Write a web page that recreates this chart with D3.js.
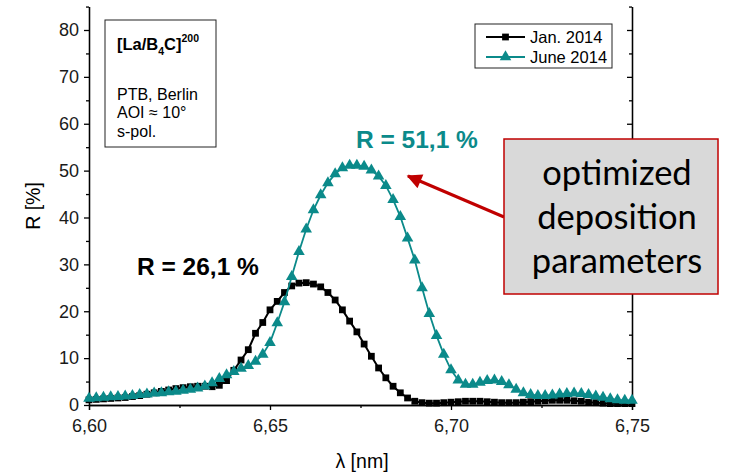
<!DOCTYPE html>
<html>
<head>
<meta charset="utf-8">
<script src="https://cdn.jsdelivr.net/npm/d3@7"></script>
<style>
  body { margin: 0; background: #fff; }
  .axis path, .axis line { stroke: #000; stroke-width: 1.3; }
  .axis text { font-family: Arial, "Liberation Sans", sans-serif; font-size: 18px; fill: #1a1a1a; }
</style>
</head>
<body>
<div id="chart"></div>
<script>

// wavelength grid [nm]
var lambda = [6.600, 6.602, 6.604, 6.606, 6.608, 6.610, 6.612, 6.614, 6.616, 6.618,
              6.620, 6.622, 6.624, 6.626, 6.628, 6.630, 6.632, 6.634, 6.636, 6.638,
              6.640, 6.642, 6.644, 6.646, 6.648, 6.650, 6.652, 6.654, 6.656, 6.658,
              6.660, 6.662, 6.664, 6.666, 6.668, 6.670, 6.672, 6.674, 6.676, 6.678,
              6.680, 6.682, 6.684, 6.686, 6.688, 6.690, 6.692, 6.694, 6.696, 6.698,
              6.700, 6.702, 6.704, 6.706, 6.708, 6.710, 6.712, 6.714, 6.716, 6.718,
              6.720, 6.722, 6.724, 6.726, 6.728, 6.730, 6.732, 6.734, 6.736, 6.738,
              6.740, 6.742, 6.744, 6.746, 6.748, 6.750];

// reflectivity [%], Jan. 2014
var rJan = [1.1, 1.2, 1.3, 1.4, 1.5, 1.6, 1.8, 2.0, 2.3, 2.6,
            2.9, 3.2, 3.5, 3.7, 3.9, 4.0, 4.0, 3.9, 4.2, 5.2,
            7.4, 9.6, 11.8, 15.3, 17.6, 20.3, 22.1, 24.0, 25.4, 26.0,
            26.1, 25.8, 25.2, 24.0, 22.4, 20.3, 17.9, 15.6, 13.0, 10.4,
            7.9, 5.8, 4.0, 2.6, 1.5, 0.8, 0.5, 0.4, 0.4, 0.5,
            0.6, 0.7, 0.8, 0.8, 0.8, 0.7, 0.6, 0.5, 0.5, 0.5,
            0.6, 0.7, 0.8, 0.9, 1.0, 1.0, 1.0, 0.9, 0.8, 0.6,
            0.5, 0.4, 0.3, 0.3, 0.3, 0.3];

// reflectivity [%], June 2014
var rJune = [1.4, 1.5, 1.6, 1.7, 1.8, 1.9, 2.0, 2.2, 2.3, 2.5,
             2.6, 2.8, 2.9, 3.1, 3.3, 3.6, 4.0, 4.7, 5.6, 6.4,
             7.1, 7.8, 8.4, 9.3, 10.8, 13.3, 17.5, 22.0, 27.4, 32.7,
             37.5, 41.6, 44.8, 47.4, 49.3, 50.6, 51.1, 51.1, 50.9, 50.1,
             48.8, 46.8, 43.8, 40.2, 35.6, 30.9, 25.0, 19.5, 14.8, 10.8,
             7.5, 5.3, 4.4, 4.4, 4.8, 5.2, 5.3, 5.0, 4.3, 3.3,
             2.6, 2.2, 2.0, 2.0, 2.1, 2.3, 2.4, 2.5, 2.4, 2.2,
             1.9, 1.6, 1.3, 1.1, 1.0, 1.0];

var seriesNames = ["Jan. 2014", "June 2014"];
var xTicks = [6.60, 6.65, 6.70, 6.75];
var xMinor = [6.625, 6.675, 6.725];
var yTicks = [0, 10, 20, 30, 40, 50, 60, 70, 80];
var yMinor = [5, 15, 25, 35, 45, 55, 65, 75, 85];

var teal = "#0b8a8a";
var arial = "Arial, 'Liberation Sans', sans-serif";

var width = 734, height = 474;
var svg = d3.select("#chart").append("svg")
    .attr("width", width)
    .attr("height", height);

// scales
var x = d3.scaleLinear().domain([6.60, 6.75]).range([89, 632]);
var y = d3.scaleLinear().domain([0, 85]).range([405, 6.56]);

var commaFmt = function(d) { return d3.format(".2f")(d).replace(".", ","); };

// axes
svg.append("g").attr("class", "axis")
    .attr("transform", "translate(0,405)")
    .call(d3.axisBottom(x).tickValues(xTicks).tickFormat(commaFmt).tickSize(5).tickPadding(9));
svg.append("g").attr("class", "axis")
    .attr("transform", "translate(0,405)")
    .call(d3.axisBottom(x).tickValues(xMinor).tickFormat("").tickSize(3).tickSizeOuter(0));

svg.append("g").attr("class", "axis")
    .attr("transform", "translate(89,0)")
    .call(d3.axisLeft(y).tickValues(yTicks).tickFormat(d3.format("d")).tickSize(5).tickSizeOuter(0).tickPadding(5));
svg.append("g").attr("class", "axis")
    .attr("transform", "translate(89,0)")
    .call(d3.axisLeft(y).tickValues(yMinor).tickFormat("").tickSize(3).tickSizeOuter(0));

// right axis, ticks pointing inward
svg.append("g").attr("class", "axis")
    .attr("transform", "translate(632,0)")
    .call(d3.axisRight(y).tickValues(yTicks).tickFormat("").tickSize(-5).tickSizeOuter(0));
svg.append("g").attr("class", "axis")
    .attr("transform", "translate(632,0)")
    .call(d3.axisRight(y).tickValues(yMinor).tickFormat("").tickSize(-3).tickSizeOuter(0));

// axis titles
svg.append("text")
    .attr("transform", "translate(40,206) rotate(-90)")
    .attr("text-anchor", "middle")
    .style("font-family", arial)
    .style("font-size", "19.5px")
    .text("R [%]");

svg.append("text")
    .attr("x", 362).attr("y", 468)
    .attr("text-anchor", "middle")
    .style("font-family", arial)
    .style("font-size", "19.5px")
    .text("λ [nm]");

// curves
var line = d3.line()
    .x(function(d) { return x(d[0]); })
    .y(function(d) { return y(d[1]); });

var janData = lambda.map(function(l, i) { return [l, rJan[i]]; });
var juneData = lambda.map(function(l, i) { return [l, rJune[i]]; });

svg.append("path")
    .datum(janData)
    .attr("fill", "none")
    .attr("stroke", "#000")
    .attr("stroke-width", 2)
    .attr("d", line);

svg.selectAll(".sq")
    .data(janData)
    .enter().append("path")
    .attr("class", "sq")
    .attr("transform", function(d) { return "translate(" + x(d[0]) + "," + y(d[1]) + ")"; })
    .attr("d", d3.symbol().type(d3.symbolSquare).size(46))
    .attr("fill", "#000");

svg.append("path")
    .datum(juneData)
    .attr("fill", "none")
    .attr("stroke", teal)
    .attr("stroke-width", 1.8)
    .attr("d", line);

svg.selectAll(".tri")
    .data(juneData)
    .enter().append("path")
    .attr("class", "tri")
    .attr("transform", function(d) { return "translate(" + x(d[0]) + "," + y(d[1]) + ")"; })
    .attr("d", d3.symbol().type(d3.symbolTriangle).size(58))
    .attr("fill", teal);

// info box
var info = svg.append("g").style("font-family", arial);
info.append("rect")
    .attr("x", 105).attr("y", 20).attr("width", 111).attr("height", 127)
    .attr("fill", "#fff").attr("stroke", "#222").attr("stroke-width", 1);
var title = info.append("text").attr("x", 117).attr("y", 50)
    .style("font-size", "16.5px").style("font-weight", "bold");
title.append("tspan").text("[La/B");
title.append("tspan").attr("dy", 5).style("font-size", "10.5px").text("4");
title.append("tspan").attr("dy", -5).text("C]");
title.append("tspan").attr("dy", -8).style("font-size", "10.5px").text("200");
var infoLines = ["PTB, Berlin", "AOI ≈ 10°", "s-pol."];
infoLines.forEach(function(t, i) {
    info.append("text")
        .attr("x", 117).attr("y", 99.5 + i * 18.5)
        .style("font-size", "16px")
        .text(t);
});

// legend
var legend = svg.append("g").style("font-family", arial);
legend.append("rect")
    .attr("x", 475).attr("y", 24).attr("width", 137).attr("height", 44)
    .attr("fill", "#fff").attr("stroke", "#222").attr("stroke-width", 1);
var legRows = [
    { name: seriesNames[0], color: "#000", sym: d3.symbolSquare, size: 46, w: 2 },
    { name: seriesNames[1], color: teal, sym: d3.symbolTriangle, size: 58, w: 1.8 }
];
legRows.forEach(function(r, i) {
    var cy = 37 + i * 20;
    legend.append("line")
        .attr("x1", 486).attr("x2", 525).attr("y1", cy).attr("y2", cy)
        .attr("stroke", r.color).attr("stroke-width", r.w);
    legend.append("path")
        .attr("transform", "translate(505.5," + cy + ")")
        .attr("d", d3.symbol().type(r.sym).size(r.size))
        .attr("fill", r.color);
    legend.append("text")
        .attr("x", 530).attr("y", cy + 6)
        .style("font-size", "16.5px")
        .text(r.name);
});

// peak labels
svg.append("text")
    .attr("x", 137).attr("y", 275)
    .style("font-family", arial)
    .style("font-size", "24.5px").style("font-weight", "bold")
    .attr("fill", "#000")
    .text("R = 26,1 %");

svg.append("text")
    .attr("x", 356).attr("y", 148)
    .style("font-family", arial)
    .style("font-size", "24.5px").style("font-weight", "bold")
    .attr("fill", teal)
    .text("R = 51,1 %");

// annotation arrow
svg.append("defs").append("marker")
    .attr("id", "arrowhead")
    .attr("viewBox", "0 0 10 10")
    .attr("refX", 9).attr("refY", 5)
    .attr("markerWidth", 5.5).attr("markerHeight", 5)
    .attr("markerUnits", "strokeWidth")
    .attr("orient", "auto")
    .append("path")
    .attr("d", "M0,0 L10,5 L0,10 z")
    .attr("fill", "#c00000");

svg.append("line")
    .attr("x1", 504).attr("y1", 217)
    .attr("x2", 408).attr("y2", 176)
    .attr("stroke", "#c00000").attr("stroke-width", 3)
    .attr("marker-end", "url(#arrowhead)");

// annotation box
svg.append("rect")
    .attr("x", 504).attr("y", 139).attr("width", 214).attr("height", 155)
    .attr("fill", "#d9d9d9").attr("stroke", "#c00000").attr("stroke-width", 1.5);

var annLines = ["optimized", "deposition", "parameters"];
svg.selectAll(".ann")
    .data(annLines)
    .enter().append("text")
    .attr("class", "ann")
    .attr("x", 617)
    .attr("y", function(d, i) { return 185 + i * 44; })
    .attr("text-anchor", "middle")
    .style("font-family", "Lato, 'Open Sans', sans-serif")
    .style("font-size", "34.5px")
    .attr("fill", "#000")
    .text(function(d) { return d; });

</script>
</body>
</html>
